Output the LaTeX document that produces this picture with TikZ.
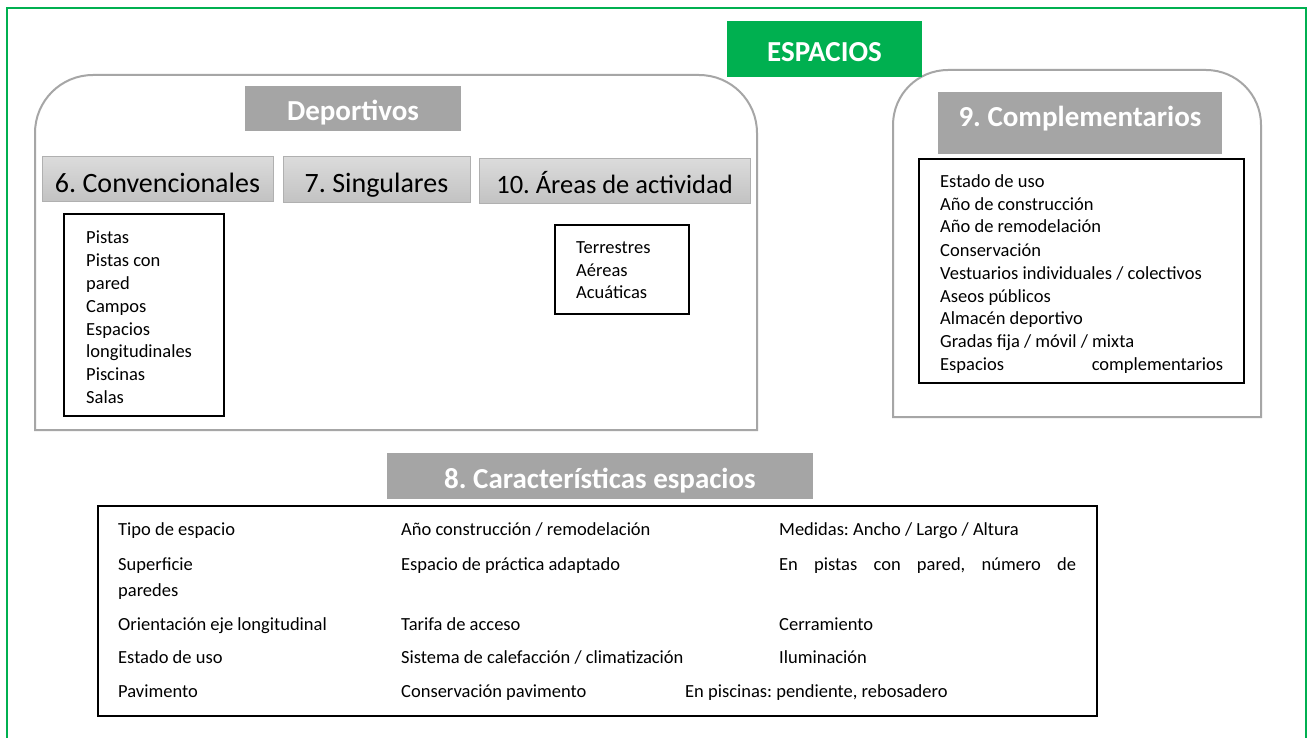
\documentclass[tikz,border=0pt]{standalone}
\usepackage{fontspec}
\setmainfont{Carlito}
\usepackage{tikz}
\usetikzlibrary{calc}
\frenchspacing

\definecolor{espgreen}{HTML}{00B050}
\definecolor{titlegray}{HTML}{A5A5A5}
\definecolor{framegray}{HTML}{A6A6A6}
\definecolor{subtop}{HTML}{DBDBDB}
\definecolor{subbottom}{HTML}{C2C2C2}
\definecolor{subline}{HTML}{B0B0B0}

\tikzset{
	titlebox/.style={fill=titlegray, text=white, inner sep=0pt, text depth=0pt, font=\fontsize{29}{34}\selectfont\bfseries},
	subbox/.style={draw=subline, line width=1pt, top color=subtop, bottom color=subbottom, inner sep=0pt, text depth=0pt, font=\fontsize{28}{33}\selectfont},
	listframe/.style={draw=black, line width=1.5pt},
	roundframe/.style={draw=framegray, line width=2pt},
	item/.style={anchor=base west, inner sep=0pt, font=\fontsize{18.5}{22.8}\selectfont}
}

\begin{document}
\begin{tikzpicture}[x=1pt, y=-1pt]
	\useasboundingbox (0,0) rectangle (1311,738);
	\fill[white] (0,0) rectangle (1311,738);
	
	% outer frame, open at the bottom
	\draw[espgreen, line width=2pt] (7,760) -- (7,8) -- (1306,8) -- (1306,760);
	
	\draw[roundframe] (35,430) -- (35,133) to[out=90,in=180] (93,75) -- (699,75) to[out=0,in=90] (757,133) -- (757,430) -- cycle;
	\draw[roundframe] (893,417) -- (893,125) to[out=90,in=180] (948,70) -- (1206,70) to[out=0,in=90] (1261,125) -- (1261,417) -- cycle;
	
	\node[titlebox, fill=espgreen, minimum width=195pt, minimum height=56pt, text height=26pt] (espacios) at (824.5,49) {ESPACIOS};
	\node[titlebox, minimum width=216pt, minimum height=45pt, text height=25pt] (deportivos) at (353,108.5) {Deportivos};
	\node[titlebox, minimum width=284pt, minimum height=62pt, text height=8pt] (complem) at (1080,123) {9. Complementarios};
	\node[titlebox, minimum width=426pt, minimum height=46pt, text height=24pt] (caract) at (600,476) {8. Características espacios};
	
	\node[subbox, minimum width=231pt, minimum height=45pt, text height=27pt] (conv) at (157.5,179.5) {6. Convencionales};
	\node[subbox, minimum width=187pt, minimum height=46pt, text height=26pt] (sing) at (376.5,180) {7. Singulares};
	\node[subbox, minimum width=271pt, minimum height=45pt, text height=24pt, font=\fontsize{26.5}{31}\selectfont] (areas) at (614.5,181.5) {10. Áreas de actividad};
	
	%\draw[listframe] (64,214) rectangle (224,410);
	\draw[listframe] (64,214) rectangle (224,416);
	\node[item] (c1) at (86,243) {Pistas};
	\node[item] (c2) at (86,266) {Pistas con};
	\node[item] (c3) at (86,289) {pared};
	\node[item] (c4) at (86,312) {Campos};
	\node[item] (c5) at (86,335) {Espacios};
	\node[item] (c6) at (86,357) {longitudinales};
	\node[item] (c7) at (86,380) {Piscinas};
	\node[item] (c8) at (86,403) {Salas};
	
	\draw[listframe] (555,225) rectangle (689,314);
	\node[item] (a1) at (576,253) {Terrestres};
	\node[item] (a2) at (576,276) {Aéreas};
	\node[item] (a3) at (576,298) {Acuáticas};
	
	\draw[listframe] (919,159) rectangle (1244,383);
	\node[item] (k1) at (940,188) {Estado de uso};
	\node[item] (k2) at (940,211) {Año de construcción};
	\node[item] (k3) at (940,233) {Año de remodelación};
	\node[item] (k4) at (940,256) {Conservación};
	\node[item] (k5) at (940,279) {Vestuarios individuales / colectivos};
	\node[item] (k6) at (940,302) {Aseos públicos};
	\node[item] (k7) at (940,324) {Almacén deportivo};
	\node[item] (k8) at (940,347) {Gradas fija / móvil / mixta};
	\node[item] (k9) at (940,370) {\makebox[283pt][s]{Espacios complementarios}};
	
	\draw[listframe] (98,506) rectangle (1097,716);
	\node[item] (t11) at (118,535) {Tipo de espacio};
	\node[item] (t21) at (118,570) {Superficie};
	\node[item] (t22) at (118,596) {paredes};
	\node[item] (t31) at (118,630) {Orientación eje longitudinal};
	\node[item] (t41) at (118,663) {Estado de uso};
	\node[item] (t51) at (118,697) {Pavimento};
	
	\node[item] (t12) at (401,535) {Año construcción / remodelación};
	\node[item] (t23) at (401,570) {Espacio de práctica adaptado};
	\node[item] (t32) at (401,630) {Tarifa de acceso};
	\node[item] (t42) at (401,663) {Sistema de calefacción / climatización};
	\node[item] (t52) at (401,697) {Conservación pavimento};
	
	\node[item] (t13) at (779,535) {Medidas: Ancho / Largo / Altura};
	\node[item] (t24) at (779,570) {\makebox[297pt][s]{En pistas con pared, número de}};
	\node[item] (t33) at (779,630) {Cerramiento};
	\node[item] (t43) at (779,663) {Iluminación};
	\node[item] (t53) at (685,697) {En piscinas: pendiente, rebosadero};
\end{tikzpicture}
\end{document}
